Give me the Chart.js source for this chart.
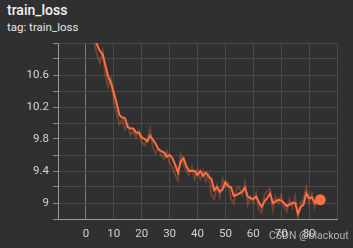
<!DOCTYPE html>
<html>
<head>
<meta charset="utf-8">
<script src="https://cdn.jsdelivr.net/npm/chart.js@4.4.1/dist/chart.umd.min.js"></script>
<style>
  body { margin: 0; background: #303030; width: 353px; height: 248px; overflow: hidden; position: relative; font-family: Roboto, sans-serif; }
  #title { position: absolute; left: 7px; top: 2px; color: #f2f2f2; font-size: 14px; font-weight: 500; }
  #tag { position: absolute; left: 7px; top: 20px; color: #e6e6e6; font-size: 11.5px; }
  #mark { position: absolute; left: 269px; top: 229px; color: rgba(220,220,220,0.75); font-size: 10.5px; }
  #wrap { position: absolute; left: 0; top: 0; width: 353px; height: 248px; }
</style>
</head>
<body>
<div id="title">train_loss</div>
<div id="tag">tag: train_loss</div>
<div id="wrap"><canvas id="chart1"></canvas></div>
<div id="mark">CSDN @blackout</div>
<script>
// training steps
let steps = [0, 1, 2, 3, 4, 5, 6, 7, 8, 9, 10, 11, 12, 13, 14, 15, 16, 17, 18, 19, 20,
  21, 22, 23, 24, 25, 26, 27, 28, 29, 30, 31, 32, 33, 34, 35, 36, 37, 38, 39, 40,
  41, 42, 43, 44, 45, 46, 47, 48, 49, 50, 51, 52, 53, 54, 55, 56, 57, 58, 59, 60,
  61, 62, 63, 64, 65, 66, 67, 68, 69, 70, 71, 72, 73, 74, 75, 76, 77, 78, 79, 80,
  81, 82, 83, 84];

// smoothed loss
let smoothLoss = [11.7, 11.5, 11.3, 11.12, 10.98, 10.9, 10.86, 10.72, 10.58, 10.5,
  10.38, 10.25, 10.1, 10.07, 10.06, 9.95, 9.93, 9.93, 9.88, 9.88,
  9.82, 9.8, 9.77, 9.84, 9.79, 9.74, 9.67, 9.65, 9.63, 9.58,
  9.6, 9.56, 9.48, 9.38, 9.52, 9.56, 9.46, 9.4, 9.4, 9.4,
  9.35, 9.4, 9.34, 9.38, 9.33, 9.3, 9.16, 9.2, 9.14, 9.17,
  9.26, 9.21, 9.2, 9.09, 9.1, 9.12, 9.14, 9.19, 9.08, 9.06,
  9.05, 9.08, 9.01, 8.95, 9.02, 9.06, 9.12, 9.0, 9.02, 9.04,
  9.03, 9.0, 8.96, 8.98, 9.0, 9.0, 8.87, 8.95, 8.98, 9.12,
  9.06, 9.07, 9.0, 9.04, 9.04];

// raw loss (faint line)
let rawLoss = [11.8, 11.4, 11.2, 11.0, 10.85, 10.75, 10.9, 10.6, 10.45, 10.55,
  10.28, 10.12, 9.98, 10.05, 9.92, 9.98, 9.85, 9.9, 9.82, 9.9,
  9.76, 9.72, 9.8, 9.93, 9.7, 9.62, 9.68, 9.6, 9.55, 9.65,
  9.5, 9.45, 9.35, 9.28, 9.6, 9.48, 9.4, 9.35, 9.45, 9.3,
  9.42, 9.3, 9.4, 9.27, 9.35, 9.1, 9.05, 9.22, 9.08, 9.3,
  9.2, 9.25, 9.05, 9.0, 9.18, 9.2, 9.1, 9.25, 8.98, 9.08,
  9.0, 9.12, 8.92, 8.88, 9.1, 9.15, 9.18, 8.92, 9.08, 9.0,
  9.1, 8.95, 8.9, 9.05, 8.95, 9.08, 8.82, 9.0, 9.05, 9.2,
  9.0, 9.12, 8.95, 9.06, 9.04];

let chart1 = document.getElementById("chart1");
let config1 = {
  type: "line",
  data: {
    datasets: [
      {
        label: "smoothed",
        data: steps.map((s, i) => ({ x: s, y: smoothLoss[i] })),
        borderColor: "#ff7043",
        backgroundColor: "#ff7043",
        borderWidth: 2,
        pointRadius: steps.map((s, i) => (i === steps.length - 1 ? 4.5 : 0)),
        tension: 0,
      },
      {
        label: "raw",
        data: steps.map((s, i) => ({ x: s, y: rawLoss[i] })),
        borderColor: "rgba(255,112,67,0.3)",
        borderWidth: 2,
        pointRadius: 0,
        tension: 0,
      },
    ],
  },
  options: {
    responsive: true,
    maintainAspectRatio: false,
    animation: false,
    layout: {
      padding: { top: 43, right: 16, left: 0, bottom: 0 },
    },
    scales: {
      x: {
        type: "linear",
        min: -10,
        max: 90,
        afterFit: (scale) => { scale.height = 29; },
        border: { color: "#9a9a9a", width: 1 },
        grid: {
          color: (c) => (c.tick && c.tick.value === 0 ? "#7a7a7a" : "#494949"),
          drawTicks: false,
        },
        ticks: {
          stepSize: 10,
          padding: 8,
          maxRotation: 0,
          autoSkip: false,
          color: "#d4d4d4",
          font: { family: "Roboto", size: 11.5 },
          callback: (v) => (v < 0 || v > 80 ? "" : String(v)),
        },
      },
      y: {
        min: 8.8,
        max: 11.0,
        afterFit: (scale) => { scale.width = 58; },
        border: { color: "#9a9a9a", width: 1 },
        grid: {
          color: "#494949",
          tickColor: "#8a8a8a",
          tickLength: 5,
        },
        ticks: {
          stepSize: 0.2,
          maxTicksLimit: 20,
          autoSkip: false,
          padding: 4,
          color: "#d4d4d4",
          font: { family: "Roboto", size: 11.5 },
          callback: (v) => {
            let r = Math.round(v * 10);
            if (r < 90 || r > 106 || (r - 90) % 4 !== 0) return "";
            return r % 10 === 0 ? String(r / 10) : (r / 10).toFixed(1);
          },
        },
      },
    },
    plugins: {
      legend: { display: false },
      tooltip: { enabled: false },
    },
  },
};

let lossChart = new Chart(chart1, config1);
</script>
</body>
</html>
